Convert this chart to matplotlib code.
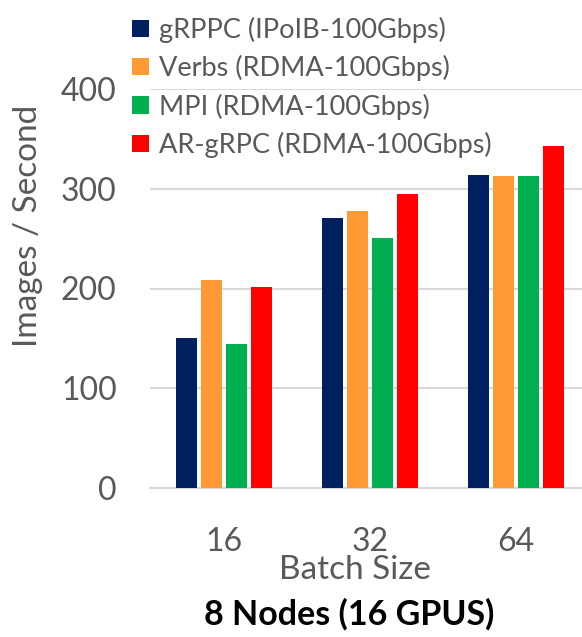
import matplotlib
matplotlib.use("Agg")
import matplotlib.pyplot as plt
import numpy as np

categories = ["16", "32", "64"]
series_names = ["gRPPC (IPoIB-100Gbps)", "Verbs (RDMA-100Gbps)",
                "MPI (RDMA-100Gbps)", "AR-gRPC (RDMA-100Gbps)"]
grpc = [150, 271, 314]
verbs = [209, 278, 313]
mpi = [144, 251, 313]
ar_grpc = [202, 295, 343]
colors = ["#002060", "#FF9933", "#00B050", "#FF0000"]
yticks = [0, 100, 200, 300, 400]

plt.rcParams['font.family'] = ['Lato', 'DejaVu Sans']
W, H = 582, 637
fig = plt.figure(figsize=(W/100, H/100), dpi=100)
ax = fig.add_axes([150/W, 1-488/H, (582-150)/W, (488-89)/H])

x = np.arange(len(categories))
slot = 0.171
bw = 0.144
data = [grpc, verbs, mpi, ar_grpc]
handles = []
for i, (vals, c, n) in enumerate(zip(data, colors, series_names)):
    b = ax.bar(x + (i-1.5)*slot, vals, width=bw, color=c, label=n, zorder=3)
    handles.append(b)

ax.set_xlim(-0.507, 2.45)
ax.set_ylim(0, 400)
ax.set_yticks(yticks)
ax.set_yticklabels([str(v) for v in yticks])
ax.set_xticks(x)
ax.set_xticklabels(categories)
ax.yaxis.grid(True, color="#D9D9D9", linewidth=1.5, zorder=0)
ax.set_axisbelow(True)
for s in ["top", "right", "left"]:
    ax.spines[s].set_visible(False)
ax.spines["bottom"].set_color("#D9D9D9")
ax.spines["bottom"].set_linewidth(1.5)
ax.tick_params(axis="both", length=0, labelsize=23, colors="#595959")
ax.tick_params(axis="x", pad=28)
ax.tick_params(axis="y", pad=24)

fig.text(355/W, 1-570/H, "Batch Size", ha="center", va="center", fontsize=24, color="#595959")
fig.text(349/W, 1-614/H, "8 Nodes (16 GPUS)", ha="center", va="center", fontsize=24.5,
         color="black", fontweight="bold")
fig.text(28/W, 1-226/H, "Images / Second", ha="center", va="center", fontsize=24,
         color="#595959", rotation=90)

leg = fig.legend(handles=handles, labels=series_names, loc="upper left",
                 bbox_to_anchor=(121/W, 1-6/H), frameon=False, fontsize=19.5,
                 handlelength=0.62, handleheight=0.62, handletextpad=0.4,
                 labelspacing=0.45, borderaxespad=0)
for t in leg.get_texts():
    t.set_color("#595959")

fig.savefig("out.png", dpi=100)
